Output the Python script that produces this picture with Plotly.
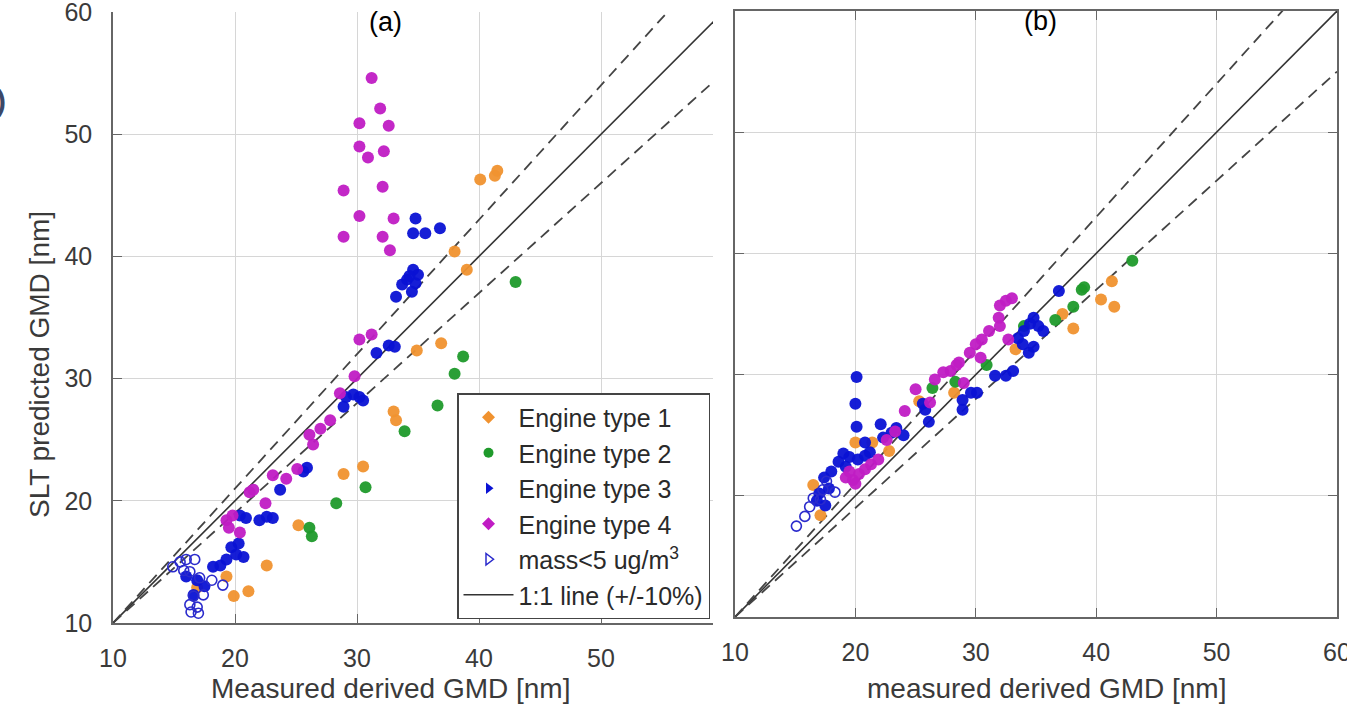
import plotly.graph_objects as go

# ---------------- data: panel (a) measured vs SLT predicted GMD [nm] ----------------
a_t1_meas = [16.9, 19.3, 19.9, 21.1, 22.6, 25.2, 28.9, 30.5, 33.0, 33.2, 34.9, 36.9, 38.0, 39.0, 40.1, 41.3, 41.5]
a_t1_pred = [12.9, 13.8, 12.2, 12.6, 14.7, 18.0, 22.2, 22.8, 27.3, 26.6, 32.3, 32.9, 40.4, 38.9, 46.3, 46.6, 47.0]

a_t2_meas = [26.1, 26.3, 28.3, 30.7, 33.9, 36.6, 38.0, 38.7, 43.0]
a_t2_pred = [17.8, 17.1, 19.8, 21.1, 25.7, 27.8, 30.4, 31.8, 37.9]

a_t3_meas = [16.0, 16.9, 16.6, 17.5, 18.2, 18.8, 19.3, 19.7, 20.1, 20.7, 20.3, 20.4, 20.9, 22.0, 23.1,
             22.6, 23.7, 25.6, 25.9, 28.9, 29.1, 29.7, 30.2, 30.5, 31.6, 32.6, 33.1, 33.2, 33.7, 34.1,
             34.5, 34.6, 34.8, 35.0, 34.3, 34.8, 34.6, 35.6, 36.8]
a_t3_pred = [13.8, 13.5, 12.3, 13.0, 14.6, 14.7, 15.2, 16.2, 15.6, 15.4, 16.5, 18.8, 18.6, 18.4, 18.6,
             18.7, 20.9, 22.4, 22.7, 27.7, 28.5, 28.7, 28.5, 28.2, 32.1, 32.7, 32.6, 36.7, 37.7, 38.1,
             37.1, 38.9, 37.8, 38.5, 38.4, 43.1, 41.9, 41.9, 42.3]

a_t4_meas = [19.3, 19.8, 20.4, 19.5, 21.2, 21.5, 22.5, 23.1, 24.2, 25.1, 26.4, 26.1, 27.0, 27.8, 28.6,
             29.8, 30.2, 31.2, 28.9, 28.9, 30.2, 30.2, 30.2, 30.9, 31.2, 31.9, 32.1, 32.1, 32.2, 32.6,
             32.7, 33.0]
a_t4_pred = [18.4, 18.8, 17.4, 17.8, 20.7, 20.9, 19.8, 22.1, 21.8, 22.6, 24.6, 25.4, 25.9, 26.6, 28.8,
             30.2, 33.2, 33.6, 41.6, 45.4, 43.3, 49.0, 50.9, 48.1, 54.6, 52.1, 41.6, 45.7, 48.6, 50.7,
             40.5, 43.1]

a_low_meas = [15.5, 16.0, 16.7, 15.8, 16.3, 17.1, 18.1, 19.0, 17.4, 16.6, 16.3, 16.9, 16.4, 17.0, 14.9]
a_low_pred = [15.0, 15.2, 15.2, 14.3, 14.2, 13.7, 13.5, 13.1, 12.3, 12.2, 11.5, 11.3, 10.9, 10.8, 14.6]

# ---------------- data: panel (b) ----------------
b_t1_meas = [16.5, 17.1, 20.0, 21.4, 22.8, 25.3, 28.2, 33.3, 37.2, 38.1, 40.4, 41.3, 41.5]
b_t1_pred = [20.9, 18.4, 24.4, 24.4, 23.7, 27.8, 28.5, 32.1, 35.0, 33.8, 36.2, 37.7, 35.6]

b_t2_meas = [26.4, 28.3, 30.9, 34.0, 36.6, 38.1, 38.8, 39.0, 43.0]
b_t2_pred = [28.9, 29.4, 30.8, 34.0, 34.5, 35.6, 37.0, 37.2, 39.4]

b_t3_meas = [20.1, 20.0, 20.1, 22.1, 23.0, 20.8, 22.3, 19.0, 19.5, 20.2, 20.8, 18.6, 19.2, 18.0, 17.4,
             17.8, 17.0, 16.8, 17.5, 21.2, 23.4, 24.0, 25.8, 26.1, 25.6, 28.9, 28.9, 29.6, 30.1, 31.6,
             32.5, 33.1, 34.4, 34.8, 33.5, 34.0, 34.8, 35.2, 35.6, 34.5, 33.9, 36.9]
b_t3_pred = [29.8, 27.6, 25.7, 25.9, 25.2, 24.4, 24.8, 23.5, 23.2, 23.0, 23.3, 22.8, 22.4, 22.0, 21.5,
             20.6, 20.2, 19.6, 19.2, 23.6, 25.6, 25.0, 27.1, 26.1, 27.6, 27.9, 27.1, 28.5, 28.5, 29.9,
             29.9, 30.3, 31.8, 32.3, 33.0, 33.6, 34.7, 34.0, 33.6, 34.2, 32.5, 36.9]

b_t4_meas = [19.2, 19.8, 20.3, 20.8, 21.3, 21.9, 20.0, 19.5, 22.6, 23.3, 24.1, 25.0, 26.2, 26.6, 27.9,
             28.6, 29.0, 30.0, 30.4, 30.5, 31.1, 31.9, 32.0, 32.0, 32.5, 33.0, 32.7, 29.5, 27.3, 28.4]
b_t4_pred = [21.5, 21.3, 21.8, 22.2, 22.6, 23.0, 21.0, 22.0, 24.6, 25.3, 27.0, 28.8, 27.7, 29.6, 30.3,
             31.0, 29.3, 32.5, 31.4, 32.9, 33.6, 34.7, 34.0, 35.7, 36.1, 36.3, 32.9, 31.8, 30.2, 30.8]

b_low_meas = [15.1, 15.8, 16.2, 17.1, 17.3, 17.6, 16.5, 18.3]
b_low_pred = [17.5, 18.3, 19.1, 19.7, 20.5, 21.2, 19.8, 20.3]

# reference lines: 1:1 and +/-10 % around it, anchored at the axis origin (10, 10)
line_x = [10, 60]
ratio_upper = 1.1
ratio_lower = 0.9

series_names = ["Engine type 1", "Engine type 2", "Engine type 3", "Engine type 4", "mass<5 ug/m<sup>3</sup>"]
tick_values = [10, 20, 30, 40, 50, 60]

# ---------------- styling ----------------
FONT = "Liberation Sans, Arial, sans-serif"
COL = {"t1": "#F0922F", "t2": "#1F9A2B", "t3": "#0A12D4", "t4": "#C01CC4", "low": "#2B2BCC"}
W, H = 1347, 712


def px_x(p):
    return p / W


def px_y(p):
    return 1 - p / H


fig = go.Figure()

panels = [
    ("x", "y", [(a_t1_meas, a_t1_pred, "t1"), (a_t2_meas, a_t2_pred, "t2"),
                (a_t3_meas, a_t3_pred, "t3"), (a_t4_meas, a_t4_pred, "t4")],
     (a_low_meas, a_low_pred)),
    ("x2", "y2", [(b_t1_meas, b_t1_pred, "t1"), (b_t2_meas, b_t2_pred, "t2"),
                  (b_t3_meas, b_t3_pred, "t3"), (b_t4_meas, b_t4_pred, "t4")],
     (b_low_meas, b_low_pred)),
]

# legend-only entries (symbols as shown in the key)
legend_symbols = ["diamond", "circle", "triangle-right", "diamond", "triangle-right-open"]
for name, key, sym in zip(series_names, ["t1", "t2", "t3", "t4", "low"], legend_symbols):
    fig.add_trace(go.Scatter(
        x=[None], y=[None], mode="markers", name=name, xaxis="x", yaxis="y",
        marker=dict(symbol=sym, size=10, color=COL[key],
                    line=dict(width=1.5 if sym.endswith("open") else 0, color=COL[key])),
        showlegend=True,
    ))

for i, (xa, ya, groups, low) in enumerate(panels):
    # reference lines
    fig.add_trace(go.Scatter(
        x=line_x, y=line_x, mode="lines", xaxis=xa, yaxis=ya,
        line=dict(color="#333333", width=1.6),
        name="1:1 line (+/-10%)", showlegend=(i == 0), hoverinfo="skip",
    ))
    for r in (ratio_upper, ratio_lower):
        fig.add_trace(go.Scatter(
            x=line_x, y=[10 + r * (v - 10) for v in line_x], mode="lines", xaxis=xa, yaxis=ya,
            line=dict(color="#444444", width=1.8, dash="11px,7px"),
            showlegend=False, hoverinfo="skip",
        ))
    # measurement points
    for mx, my, key in groups:
        fig.add_trace(go.Scatter(
            x=mx, y=my, mode="markers", xaxis=xa, yaxis=ya, showlegend=False,
            marker=dict(symbol="circle", size=12, color=COL[key], opacity=0.95, line=dict(width=0)),
        ))
    fig.add_trace(go.Scatter(
        x=low[0], y=low[1], mode="markers", xaxis=xa, yaxis=ya, showlegend=False,
        marker=dict(symbol="circle-open", size=10, color=COL["low"], line=dict(width=1.6, color=COL["low"])),
    ))

axis_common = dict(
    showgrid=True, gridcolor="#d6d6d6", gridwidth=1,
    showline=True, linecolor="#666666", linewidth=1.5,
    ticks="inside", ticklen=9, tickcolor="#666666", tickwidth=1.2,
    tickvals=tick_values, zeroline=False, automargin=False,
    ticklabeloverflow="allow",
    tickfont=dict(family=FONT, size=25, color="#3a3a3a"),
)

fig.update_layout(
    width=W, height=H, margin=dict(l=0, r=0, t=0, b=0, autoexpand=False),
    paper_bgcolor="white", plot_bgcolor="white",
    xaxis=dict(domain=[px_x(113), px_x(713)], range=[10, 10 + (713 - 113) / 12.2],
               anchor="y", mirror=False, ticklabelstandoff=12, **axis_common),
    yaxis=dict(domain=[px_y(623), px_y(12)], range=[10, 60],
               anchor="x", mirror=False, ticklabelstandoff=14, **axis_common),
    xaxis2=dict(domain=[px_x(735), px_x(1337)], range=[10, 60],
                anchor="y2", mirror="ticks", ticklabelstandoff=12, **axis_common),
    yaxis2=dict(domain=[px_y(617), px_y(11)], range=[10, 60],
                anchor="x2", mirror="ticks", showticklabels=False, **axis_common),
    legend=dict(
        x=px_x(457), y=px_y(393), xanchor="left", yanchor="top",
        bgcolor="white", bordercolor="#444444", borderwidth=1.5,
        font=dict(family=FONT, size=25, color="#2a2a2a"),
        itemwidth=50, tracegroupgap=0, traceorder="normal",
    ),
    showlegend=True,
)


def label(text, x, y, font, angle=0):
    fig.add_annotation(text=text, x=px_x(x), y=px_y(y), xref="paper", yref="paper",
                       xanchor="center", yanchor="middle", showarrow=False,
                       textangle=angle, font=font)


text_font = dict(family=FONT, size=28, color="#3a3a3a")
title_font = dict(family=FONT, size=27, color="black")
label("(a)", 385, 22, title_font)
label("(b)", 1040, 21, title_font)
label("Measured derived GMD [nm]", 390, 688, text_font)
label("measured derived GMD [nm]", 1046, 688, text_font)
label("SLT predicted GMD [nm]", 40, 365, text_font, angle=-90)
label("<b>)</b>", 1, 100, dict(family=FONT, size=30, color="#3b4868"))

fig.write_html("out.html")
